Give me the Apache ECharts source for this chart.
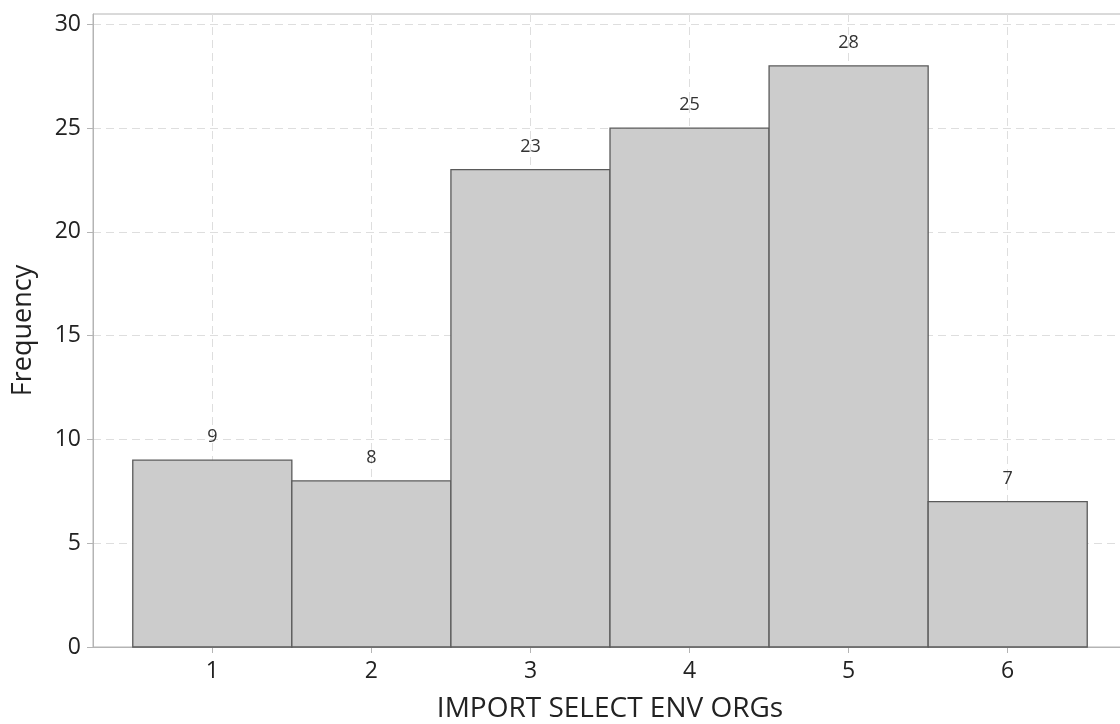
<!DOCTYPE html>
<html>
<head>
<meta charset="utf-8">
<script src="https://cdn.jsdelivr.net/npm/echarts@6/dist/echarts.min.js"></script>
<style>
  html, body { margin: 0; padding: 0; background: #fff; }
  #chart { width: 1120px; height: 724px; }
</style>
</head>
<body>
<div id="chart"></div>
<script>
// Histogram of IMPORT SELECT ENV ORGs responses
const binCenters = [1, 2, 3, 4, 5, 6];
const frequencies = [9, 8, 23, 25, 28, 7];
const binWidth = 1;
const xTicks = [1, 2, 3, 4, 5, 6];
const yTicks = [0, 5, 10, 15, 20, 25, 30];

const FONT = '"Open Sans", "Noto Sans", sans-serif';
const axisGrey = '#b4b4b4';
const gridGrey = '#dedede';

const chart = echarts.init(document.getElementById('chart'), null, { renderer: 'canvas' });

const barData = binCenters.map((c, i) => [c, frequencies[i]]);

chart.setOption({
  animation: false,
  backgroundColor: '#ffffff',
  grid: {
    left: 93, top: 14, width: 1034, bottom: 77,
    outerBoundsMode: 'none',
    containLabel: false,
    show: true, borderColor: axisGrey, borderWidth: 1, backgroundColor: 'transparent'
  },
  xAxis: {
    type: 'value',
    min: 0.25, max: 6.75,
    name: 'IMPORT SELECT ENV ORGs',
    nameLocation: 'middle',
    nameGap: 48,
    nameTextStyle: { fontFamily: FONT, fontSize: 28, color: '#222' },
    axisLine: { show: true, lineStyle: { color: axisGrey, width: 1 } },
    axisTick: { show: true, length: 6, customValues: xTicks, lineStyle: { color: axisGrey } },
    axisLabel: { customValues: xTicks, fontFamily: FONT, fontSize: 23, color: '#222', margin: 13 },
    splitLine: { show: true, lineStyle: { color: gridGrey, type: [8, 5], width: 1 } }
  },
  yAxis: {
    type: 'value',
    min: 0, max: 30.5,
    name: 'Frequency',
    nameLocation: 'middle',
    nameGap: 56,
    nameTextStyle: { fontFamily: FONT, fontSize: 27, color: '#222' },
    axisLine: { show: true, lineStyle: { color: axisGrey, width: 1 } },
    axisTick: { show: true, length: 6, customValues: yTicks, lineStyle: { color: axisGrey } },
    axisLabel: { customValues: yTicks, fontFamily: FONT, fontSize: 23, color: '#222', margin: 12 },
    splitLine: { show: true, lineStyle: { color: gridGrey, type: [8, 5], width: 1 } }
  },
  series: [{
    type: 'custom',
    data: barData,
    encode: { x: 0, y: 1 },
    clip: false,
    renderItem: function (params, api) {
      const c = api.value(0);
      const v = api.value(1);
      const p0 = api.coord([c - binWidth / 2, v]);
      const p1 = api.coord([c + binWidth / 2, 0]);
      const top = api.coord([c, v]);
      return {
        type: 'group',
        children: [{
          type: 'rect',
          shape: { x: p0[0], y: p0[1], width: p1[0] - p0[0], height: p1[1] - p0[1] },
          style: { fill: '#cccccc', stroke: '#5a5a5a', lineWidth: 1.3 }
        }, {
          type: 'text',
          x: top[0], y: top[1] - 23,
          style: {
            text: String(v), fontFamily: FONT, fontSize: 18, fill: '#333',
            align: 'center', verticalAlign: 'middle'
          }
        }]
      };
    }
  }]
});
</script>
</body>
</html>
